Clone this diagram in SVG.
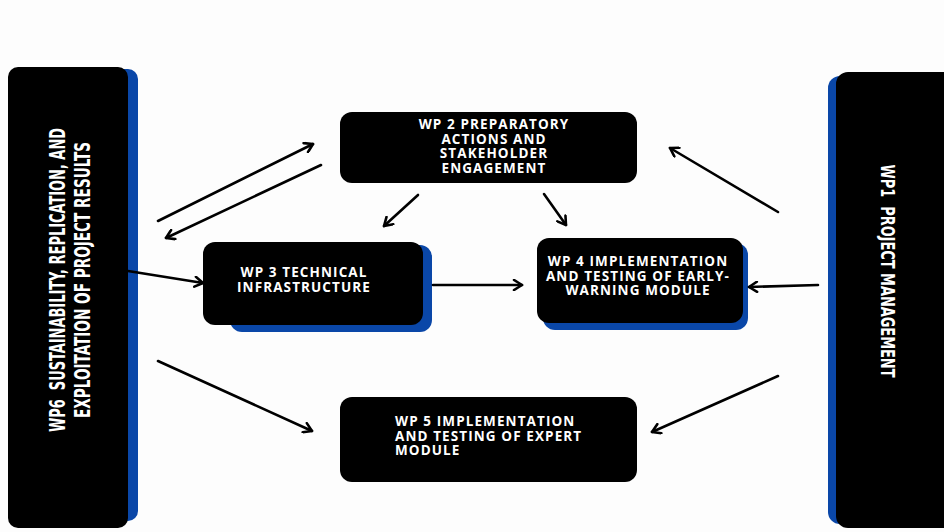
<svg xmlns="http://www.w3.org/2000/svg" width="944" height="532" viewBox="0 0 944 532">
<defs>
<marker id="ah" viewBox="0 0 12 12" refX="10" refY="6" markerWidth="12" markerHeight="12" markerUnits="userSpaceOnUse" orient="auto">
<path d="M2,1 L10,6 L2,11" fill="none" stroke="#000" stroke-width="2.6" stroke-linecap="round" stroke-linejoin="round"/>
</marker>
<style>
.bg{fill:#fdfdfd}
.box{fill:#000}
.sh{fill:#0a47a8}
.t{font-family:"Open Sans","Noto Sans","DejaVu Sans",sans-serif;font-weight:700;font-size:13.5px;fill:#fff;letter-spacing:1.1px}
.v{font-family:"DejaVu Sans Condensed","DejaVu Sans",sans-serif;font-weight:700;fill:#fff}
.c line{stroke:#000;stroke-width:2.6;stroke-linecap:round;marker-end:url(#ah)}
</style>
</defs>
<rect class="bg" x="0" y="0" width="944" height="532"/>
<g id="wp6">
<rect class="sh" x="18" y="69" width="120" height="452" rx="10"/>
<rect class="box" x="8" y="67" width="120" height="461" rx="10"/>
<g transform="translate(69,280) rotate(-90)">
<text class="v" x="0" y="-4" font-size="21" text-anchor="middle" textLength="304" lengthAdjust="spacingAndGlyphs">WP6&#160;&#160;SUSTAINABILITY, REPLICATION, AND</text>
<text class="v" x="0" y="21" font-size="21" text-anchor="middle" textLength="276" lengthAdjust="spacingAndGlyphs">EXPLOITATION OF PROJECT RESULTS</text>
</g>
</g>
<g id="wp1">
<rect class="sh" x="828" y="76" width="120" height="448" rx="12"/>
<rect class="box" x="836" y="72" width="120" height="456" rx="12"/>
<g transform="translate(889,271) rotate(90)">
<text class="v" x="0" y="8" font-size="19" text-anchor="middle" textLength="213" lengthAdjust="spacingAndGlyphs">WP1&#160;&#160;PROJECT MANAGEMENT</text>
</g>
</g>
<g id="wp2">
<rect class="box" x="340" y="112" width="297" height="71" rx="12"/>
<text class="t" text-anchor="middle"><tspan x="494" y="129">WP 2 PREPARATORY</tspan><tspan x="494" y="143.5">ACTIONS AND</tspan><tspan x="494" y="158">STAKEHOLDER</tspan><tspan x="494" y="172.5">ENGAGEMENT</tspan></text>
</g>
<g id="wp3">
<rect class="sh" x="230" y="245" width="202" height="87" rx="12"/>
<rect class="box" x="203" y="242" width="220" height="83" rx="12"/>
<text class="t" text-anchor="middle"><tspan x="304" y="277">WP 3 TECHNICAL</tspan><tspan x="304" y="291.5">INFRASTRUCTURE</tspan></text>
</g>
<g id="wp4">
<rect class="sh" x="543" y="243" width="205" height="87" rx="12"/>
<rect class="box" x="537" y="238" width="206" height="85" rx="12"/>
<text class="t" text-anchor="middle"><tspan x="638" y="266">WP 4 IMPLEMENTATION</tspan><tspan x="638" y="280.5">AND TESTING OF EARLY-</tspan><tspan x="638" y="295">WARNING MODULE</tspan></text>
</g>
<g id="wp5">
<rect class="box" x="340" y="397" width="297" height="85" rx="12"/>
<text class="t"><tspan x="395" y="426">WP 5 IMPLEMENTATION</tspan><tspan x="395" y="440.5">AND TESTING OF EXPERT</tspan><tspan x="395" y="455">MODULE</tspan></text>
</g>
<g id="connectors" class="c">
<line x1="158" y1="221" x2="313" y2="144"/>
<line x1="321" y1="165" x2="166" y2="238"/>
<line x1="778" y1="212" x2="670" y2="148"/>
<line x1="418" y1="195" x2="384" y2="226"/>
<line x1="544" y1="194" x2="566" y2="225"/>
<line x1="128" y1="271" x2="203" y2="283"/>
<line x1="433" y1="285" x2="522" y2="285"/>
<line x1="818" y1="285" x2="749" y2="287"/>
<line x1="158" y1="361" x2="312" y2="431"/>
<line x1="778" y1="376" x2="652" y2="432"/>
</g>
</svg>
